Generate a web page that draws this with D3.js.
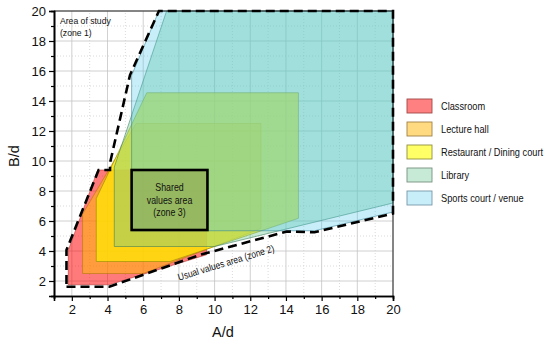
<!DOCTYPE html>
<html><head><meta charset="utf-8">
<script src="https://cdn.jsdelivr.net/npm/d3@7"></script>
<style>body{margin:0;background:#fff}svg{display:block}text{font-family:"Liberation Sans",Arial,sans-serif;fill:#111}</style>
</head><body><svg id="c" width="550" height="344"></svg>
<script>
// ---- data ----
const categories = ["Classroom","Lecture hall","Restaurant / Dining court","Library","Sports court / venue"];
const classroomPts  = [[1.8,1.75],[4.1,1.75],[9.55,3.75],[9.55,9.4],[3.45,9.4],[1.8,4.05]];
const lecturePts    = [[2.6,2.5],[6.0,2.5],[12.6,5.5],[12.6,12.5],[5.6,12.5],[2.6,6.45]];
const restaurantPts = [[3.37,3.3],[7.5,3.3],[14.7,6.18],[14.7,14.55],[6.2,14.55],[3.37,7.5]];
const libraryPts    = [[4.38,4.3],[10,4.3],[20,7.2],[20,20],[7.31,20],[4.38,9.6]];
const sportsPts     = [[5.35,5.35],[15.6,5.35],[20,6.6],[20,20],[6.88,20],[5.35,15.7]];
const zone1Pts = [[1.7,1.62],[4.1,1.62],[9.2,3.75],[14.05,5.3],[15.6,5.25],[20,6.5],[20,20],[6.88,20],[5.26,15.73],[4.14,9.87],[4.14,9.4],[3.5,9.4],[1.7,4.07]];
const zone3Box = [[5.35,5.4],[9.6,9.4]];
const majorTicks = [2,4,6,8,10,12,14,16,18,20];
const minorTicks = [1,3,5,7,9,11,13,15,17,19];
const xLabel = "A/d", yLabel = "B/d";

// draw order: classroom (bottom) ... sports (top)
const fills   = ["rgba(255,0,0,0.52)","rgba(255,190,0,0.5)","rgba(255,236,0,0.7)","rgba(112,202,152,0.4)","rgba(72,198,235,0.3)"];
const strokes = ["#b03030","#b07a00","#8a8a00","#3c7a5a","#2f7f95"];
const legendFills = ["#ff8080","#ffda80","#ffff66","#c6ead6","#c8eef9"];
const legendStrokes = ["#a04848","#a08048","#909040","#789080","#7898a8"];

// ---- drawing ----
const svg = d3.select("#c");
const x = d3.scaleLinear([1,20],[54,393]);
const y = d3.scaleLinear([1,20],[296,11]);

const g = svg.append("g");
// grid
g.selectAll(".gmx").data(majorTicks).join("line")
  .attr("x1",d=>x(d)).attr("x2",d=>x(d)).attr("y1",y(1)).attr("y2",y(20))
  .attr("stroke","#c4c4c4").attr("stroke-width",0.8);
g.selectAll(".gmy").data(majorTicks).join("line")
  .attr("y1",d=>y(d)).attr("y2",d=>y(d)).attr("x1",x(1)).attr("x2",x(20))
  .attr("stroke","#c4c4c4").attr("stroke-width",0.8);
g.selectAll(".gnx").data(minorTicks.filter(d=>d>1)).join("line")
  .attr("x1",d=>x(d)).attr("x2",d=>x(d)).attr("y1",y(1)).attr("y2",y(20))
  .attr("stroke","#d0d0d0").attr("stroke-width",0.8).attr("stroke-dasharray","1,2");
g.selectAll(".gny").data(minorTicks.filter(d=>d>1)).join("line")
  .attr("y1",d=>y(d)).attr("y2",d=>y(d)).attr("x1",x(1)).attr("x2",x(20))
  .attr("stroke","#d0d0d0").attr("stroke-width",0.8).attr("stroke-dasharray","1,2");

// polygons
const line = d3.line().x(d=>x(d[0])).y(d=>y(d[1])).curve(d3.curveLinearClosed);
const polys = [classroomPts, lecturePts, restaurantPts, libraryPts, sportsPts];
polys.forEach((p,i)=>{
  g.append("path").attr("d",line(p)).attr("fill",fills[i])
   .attr("stroke",strokes[i]).attr("stroke-width",0.7).attr("stroke-opacity",0.8);
});

// frame top/right
g.append("line").attr("x1",x(1)).attr("x2",x(20)).attr("y1",y(20)).attr("y2",y(20)).attr("stroke","#222").attr("stroke-width",1);
g.append("line").attr("x1",x(20)).attr("x2",x(20)).attr("y1",y(1)).attr("y2",y(20)).attr("stroke","#222").attr("stroke-width",1);

// zone 3 box
g.append("rect").attr("x",x(zone3Box[0][0])).attr("y",y(zone3Box[1][1]))
  .attr("width",x(zone3Box[1][0])-x(zone3Box[0][0])).attr("height",y(zone3Box[0][1])-y(zone3Box[1][1]))
  .attr("fill","rgba(110,100,0,0.2)").attr("stroke","#000").attr("stroke-width",2.6);

// zone 1 dashed
g.append("path").attr("d",line(zone1Pts)).attr("fill","none")
  .attr("stroke","#000").attr("stroke-width",2.6).attr("stroke-dasharray","9,5");

// axes
svg.append("g").attr("transform",`translate(0,${y(1)})`)
  .call(d3.axisBottom(x).tickValues(majorTicks).tickSize(5).tickPadding(4));
svg.append("g").attr("transform",`translate(0,${y(1)})`)
  .call(d3.axisBottom(x).tickValues(minorTicks).tickSize(3).tickFormat(""));
svg.append("g").attr("transform",`translate(${x(1)},0)`)
  .call(d3.axisLeft(y).tickValues(majorTicks).tickSize(5).tickPadding(3));
svg.append("g").attr("transform",`translate(${x(1)},0)`)
  .call(d3.axisLeft(y).tickValues(minorTicks).tickSize(3).tickFormat(""));
svg.selectAll(".domain").attr("stroke","#000").attr("stroke-width",1.6);
svg.selectAll(".tick line").attr("stroke","#000").attr("stroke-width",1.2);
svg.selectAll(".tick text").attr("font-size",13).attr("font-family","Liberation Sans, Arial, sans-serif").attr("fill","#222");

// axis titles
svg.append("text").attr("x",223).attr("y",337).attr("text-anchor","middle").attr("font-size",14.5).text(xLabel);
svg.append("text").attr("transform","translate(19,156) rotate(-90)").attr("text-anchor","middle").attr("font-size",14.5).text(yLabel);

// condensed text helper
function ctext(parent, tx, ty, rot, sx, size, anchor, str){
  return parent.append("text")
    .attr("transform",`translate(${tx},${ty}) rotate(${rot}) scale(${sx},1)`)
    .attr("text-anchor",anchor).attr("font-size",size).text(str);
}
// annotations
ctext(svg,60,24,0,0.88,9.8,"start","Area of study");
ctext(svg,60,36,0,0.88,9.8,"start","(zone 1)");
const zc = (x(zone3Box[0][0])+x(zone3Box[1][0]))/2;
["Shared","values area","(zone 3)"].forEach((t,i)=>{
  ctext(svg,zc,191+i*12.5,0,0.84,10.5,"middle",t);
});
ctext(svg,227,266,-17,0.84,10,"middle","Usual values area (zone 2)");

// legend
const lg = svg.append("g");
categories.forEach((c,i)=>{
  const yy = 106 + i*23;
  lg.append("rect").attr("x",407).attr("y",yy-7).attr("width",25).attr("height",14)
    .attr("fill",legendFills[i]).attr("stroke",legendStrokes[i]).attr("stroke-width",0.9);
  ctext(lg,441,yy+4,0,0.84,11,"start",c);
});
</script></body></html>
